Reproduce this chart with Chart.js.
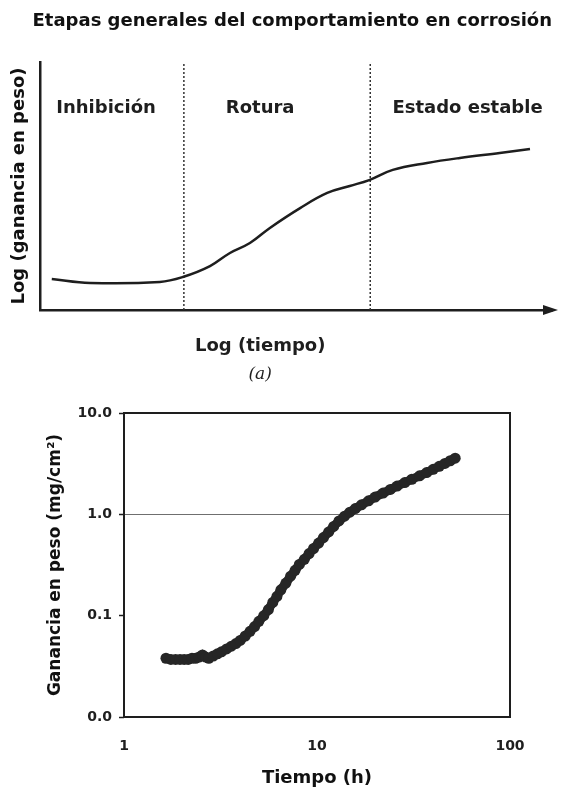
<!DOCTYPE html>
<html lang="es">
<head>
<meta charset="utf-8">
<title>Etapas generales del comportamiento en corrosión</title>
<script src="https://cdn.jsdelivr.net/npm/chart.js@4"></script>
<style>
  body { margin: 0; background: #fff; }
  #arriba { position: absolute; left: 0; top: 0; }
  #abajo { position: absolute; left: 0; top: 390px; }
</style>
</head>
<body>
<canvas id="arriba" width="563" height="390"></canvas>
<canvas id="abajo" width="563" height="399"></canvas>
<script>
// (a) curva esquematica, ejes sin unidades (0-100)
const esquemaX = [2.3, 9.8, 23.4, 27.9, 33.2, 37.1, 41.0, 44.9, 50.8, 56.1, 60.5, 64.3, 68.9, 75.6, 82.0, 89.8, 95.7];
const esquemaY = [12.5, 10.9, 11.3, 13.3, 17.7, 23.0, 27.0, 33.1, 41.1, 47.2, 50.0, 52.4, 56.5, 59.3, 61.3, 63.3, 64.9];
const limitesEtapas = [28.1, 64.5];
const etapas = ['Inhibición', 'Rotura', 'Estado estable'];
const etapasX = [12.9, 43, 83.5];
const etapasY = 81.5;

// (b) ganancia en peso medida (mg/cm2) frente al tiempo (h)
const tiempo = [1.65, 1.75, 1.85, 1.95, 2.05, 2.15, 2.25, 2.35, 2.45, 2.55, 2.65, 2.75, 2.9, 3.05, 3.2, 3.4, 3.6, 3.8, 4.0, 4.25, 4.5, 4.75, 5.0, 5.3, 5.6, 5.9, 6.2, 6.5, 6.9, 7.3, 7.7, 8.1, 8.6, 9.1, 9.6, 10.2, 10.8, 11.5, 12.2, 13.0, 13.9, 14.8, 15.8, 17, 18.5, 20, 22, 24, 26, 28.5, 31, 34, 37, 40, 43, 46, 49, 52];
const ganancia = [0.038, 0.037, 0.037, 0.037, 0.037, 0.037, 0.038, 0.038, 0.039, 0.041, 0.039, 0.038, 0.040, 0.042, 0.044, 0.047, 0.050, 0.053, 0.057, 0.063, 0.070, 0.078, 0.088, 0.10, 0.115, 0.135, 0.155, 0.18, 0.21, 0.245, 0.28, 0.32, 0.36, 0.41, 0.46, 0.52, 0.59, 0.67, 0.76, 0.86, 0.96, 1.05, 1.14, 1.24, 1.36, 1.48, 1.62, 1.76, 1.90, 2.06, 2.22, 2.40, 2.58, 2.78, 2.98, 3.18, 3.38, 3.58];
const ticksGanancia = [0.01, 0.1, 1, 10];
const ticksTiempo = [1, 10, 100];

const negro = '#1e1e1e';
const fuente = '"DejaVu Sans", sans-serif';

// flecha, nombres de etapas y rotulos del esquema
const extrasEsquema = {
  id: 'extrasEsquema',
  afterDraw(chart) {
    const { ctx, chartArea: a, scales: { x, y } } = chart;
    ctx.save();
    ctx.fillStyle = negro;
    ctx.beginPath();
    ctx.moveTo(a.right + 6, a.bottom);
    ctx.lineTo(a.right - 9, a.bottom - 5);
    ctx.lineTo(a.right - 9, a.bottom + 5);
    ctx.closePath();
    ctx.fill();

    ctx.textAlign = 'center';
    ctx.textBaseline = 'middle';
    ctx.font = 'bold 18px ' + fuente;
    etapas.forEach((t, i) => {
      ctx.fillText(t, x.getPixelForValue(etapasX[i]), y.getPixelForValue(etapasY));
    });
    ctx.fillText('Log (tiempo)', x.getPixelForValue(43), 346);
    ctx.font = 'italic 17px "DejaVu Serif", serif';
    ctx.fillText('(a)', x.getPixelForValue(43), 375);
    ctx.restore();
  }
};

new Chart(document.getElementById('arriba'), {
  type: 'line',
  data: {
    datasets: [
      {
        data: esquemaX.map((v, i) => ({ x: v, y: esquemaY[i] })),
        borderColor: negro,
        borderWidth: 2.5,
        pointRadius: 0,
        tension: 0.4
      },
      ...limitesEtapas.map(v => ({
        data: [{ x: v, y: 0 }, { x: v, y: 100 }],
        borderColor: '#333',
        borderWidth: 1.5,
        borderDash: [2, 2],
        pointRadius: 0
      }))
    ]
  },
  options: {
    responsive: false,
    animation: false,
    layout: { padding: { left: 0, right: 11, top: 0, bottom: 33 } },
    plugins: {
      legend: { display: false },
      tooltip: { enabled: false },
      title: {
        display: true,
        align: 'end',
        text: 'Etapas generales del comportamiento en corrosión',
        color: '#111',
        font: { family: fuente, size: 18, weight: 'bold' },
        padding: { top: 11, bottom: 29.4 }
      }
    },
    scales: {
      x: {
        type: 'linear', min: 0, max: 100,
        ticks: { display: false },
        grid: { display: false, drawTicks: false },
        border: { display: true, color: negro, width: 2.5 },
        afterFit: s => { s.height = 47; }
      },
      y: {
        type: 'linear', min: 0, max: 100,
        ticks: { display: false },
        grid: { display: false, drawTicks: false },
        border: { display: true, color: negro, width: 2.5 },
        title: {
          display: true, text: 'Log (ganancia en peso)', color: '#111',
          font: { family: fuente, size: 18, weight: 'bold' },
          padding: { top: 9, bottom: 0 }
        },
        afterFit: s => { s.width = 40; }
      }
    }
  },
  plugins: [extrasEsquema]
});

// marco completo del grafico (b)
const marco = {
  id: 'marco',
  afterDraw(chart) {
    const { ctx, chartArea: a } = chart;
    ctx.save();
    ctx.strokeStyle = negro;
    ctx.lineWidth = 2;
    ctx.strokeRect(a.left, a.top, a.right - a.left, a.bottom - a.top);
    ctx.restore();
  }
};

new Chart(document.getElementById('abajo'), {
  type: 'scatter',
  data: {
    datasets: [{
      data: tiempo.map((t, i) => ({ x: t, y: ganancia[i] })),
      showLine: true,
      borderColor: '#262626',
      borderWidth: 9,
      backgroundColor: '#262626',
      pointRadius: 5.5,
      pointBorderWidth: 0
    }]
  },
  options: {
    responsive: false,
    animation: false,
    layout: { padding: { left: 41, right: 53, top: 23, bottom: 0 } },
    plugins: { legend: { display: false }, tooltip: { enabled: false } },
    scales: {
      x: {
        type: 'logarithmic', min: 1, max: 100,
        afterBuildTicks: s => { s.ticks = ticksTiempo.map(v => ({ value: v })); },
        ticks: {
          color: negro, padding: 21, maxRotation: 0,
          font: { family: fuente, size: 14, weight: 'bold' },
          callback: v => String(v)
        },
        grid: { display: false, drawTicks: false },
        border: { display: false },
        title: {
          display: true, text: 'Tiempo (h)', color: '#111',
          font: { family: fuente, size: 18, weight: 'bold' },
          padding: { top: 0, bottom: 0 }
        },
        afterFit: s => { s.height = 72; }
      },
      y: {
        type: 'logarithmic', min: 0.01, max: 10,
        afterBuildTicks: s => { s.ticks = ticksGanancia.map(v => ({ value: v })); },
        ticks: {
          color: negro, padding: 7,
          font: { family: fuente, size: 14, weight: 'bold' },
          callback: v => v.toFixed(1)
        },
        grid: {
          drawTicks: true, tickLength: 5, tickColor: negro, tickWidth: 1.5,
          lineWidth: 1,
          color: c => (c.tick && c.tick.value === 1) ? '#6f6f6f' : 'rgba(0,0,0,0)'
        },
        border: { display: false },
        title: {
          display: true, text: 'Ganancia en peso (mg/cm²)', color: '#111',
          font: { family: fuente, size: 17, weight: 'bold' },
          padding: { top: 4, bottom: 0 }
        },
        afterFit: s => { s.width = 83; }
      }
    }
  },
  plugins: [marco]
});
</script>
</body>
</html>
